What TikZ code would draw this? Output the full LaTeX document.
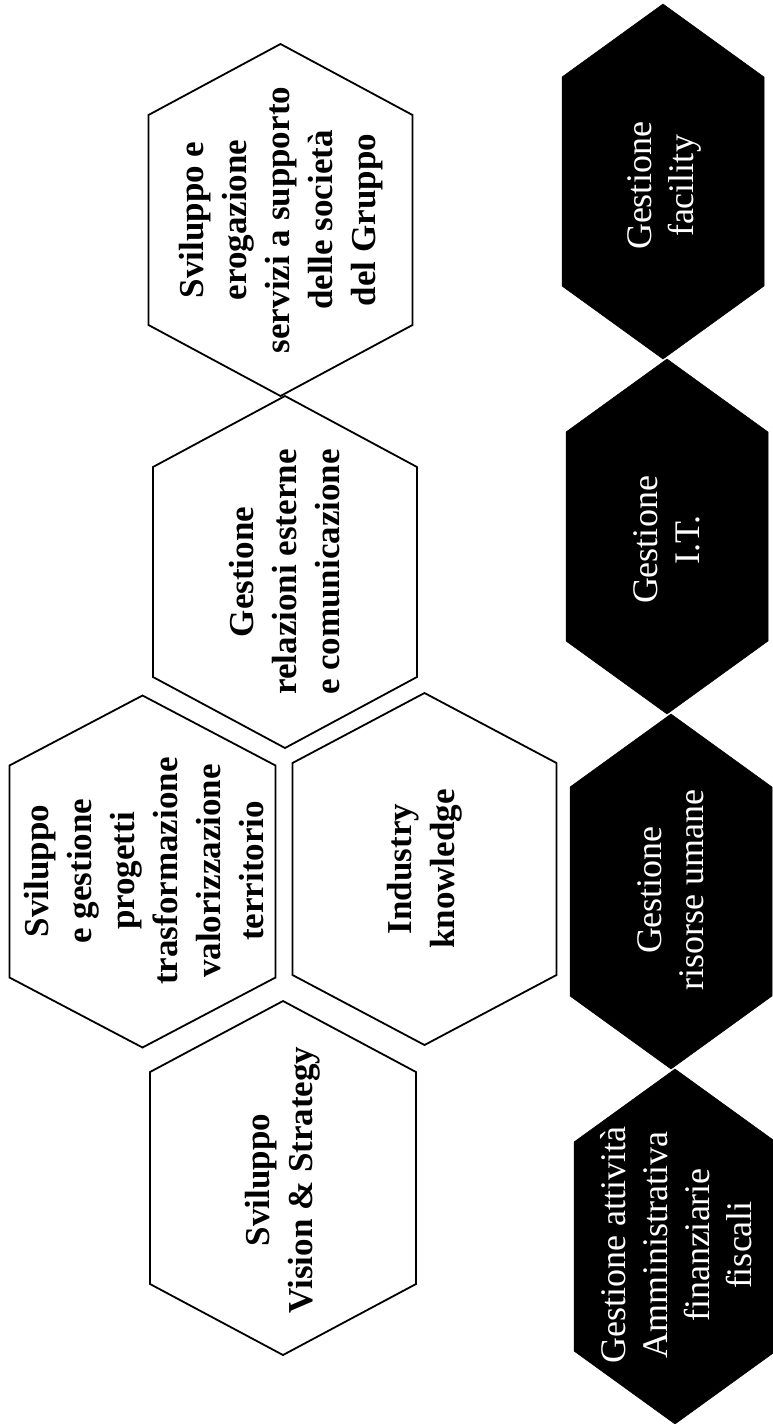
\documentclass[tikz,border=0pt]{standalone}
\usepackage{fontspec}
\setmainfont{Liberation Serif}
\tikzset{
  whitehex/.style={draw=black, line width=1.8pt, fill=white, line join=miter},
  blackhex/.style={fill=black, draw=black, line width=0.5pt},
  wlabel/.style={rotate=90, align=center, font=\fontsize{35}{43}\selectfont\bfseries, text=black, inner sep=0pt},
  blabel/.style={rotate=90, align=center, font=\fontsize{36}{42}\selectfont, text=white, inner sep=0pt},
}
% #1 style, #2 cx, #3 cy, #4 half width, #5 half height, #6 slant height
\newcommand\hexpath[6]{%
  \path[#1] (#2,{#3-#5}) -- ++(#4,#6) -- ++(0,{2*#5-2*#6}) -- ++(-#4,#6)
    -- ++(-#4,-#6) -- ++(0,{-2*#5+2*#6}) -- cycle;}
\begin{document}
\begin{tikzpicture}[x=1pt,y=-1pt]
  \path[use as bounding box] (0,0) rectangle (773,1424);
  \clip (0,0) rectangle (773,1424);
  \fill[white] (0,0) rectangle (773,1424);
  % white hexagons
  \hexpath{whitehex}{280.5}{220}{132}{176}{71}
  \hexpath{whitehex}{285}{572}{132}{176}{71}
  \hexpath{whitehex}{142.5}{871.5}{133}{176}{70}
  \hexpath{whitehex}{424.5}{869}{132}{176}{70}
  \hexpath{whitehex}{283}{1178}{133}{177}{71}
  % black hexagons
  \hexpath{blackhex}{663}{181.5}{101}{177.5}{73}
  \hexpath{blackhex}{667}{536.5}{101}{177.5}{73}
  \hexpath{blackhex}{671}{891.5}{101}{177.5}{73}
  \hexpath{blackhex}{675}{1246.5}{101}{177.5}{73}
  % labels
  \node[wlabel] (servizi) at (281,220) {Sviluppo e\\erogazione\\servizi a supporto\\delle società\\del Gruppo};
  \node[wlabel] (relazioni) at (285,572) {Gestione\\relazioni esterne\\e comunicazione};
  \node[wlabel] (progetti) at (144,871) {Sviluppo\\e gestione\\progetti\\trasformazione\\valorizzazione\\territorio};
  \node[wlabel] (industry) at (425,869) {Industry\\knowledge};
  \node[wlabel] (vision) at (283,1180) {Sviluppo\\Vision \& Strategy};
  \node[blabel] (facility) at (664,186) {Gestione\\facility};
  \node[blabel] (it) at (667,540) {Gestione\\I.T.};
  \node[blabel] (risorse) at (671,890) {Gestione\\risorse umane};
  \node[blabel] (attivita) at (676,1245) {Gestione attività\\Amministrativa\\finanziarie\\fiscali};
\end{tikzpicture}
\end{document}
